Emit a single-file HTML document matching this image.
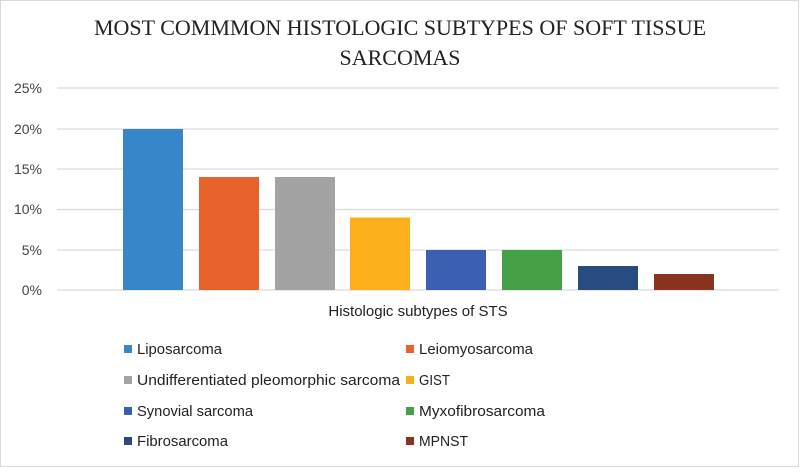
<!DOCTYPE html>
<html><head><style>
body{margin:0;background:#fff}
svg text{font-family:"Liberation Sans",sans-serif}
</style></head><body>
<svg width="800" height="467" xmlns="http://www.w3.org/2000/svg">
<rect x="0.5" y="0.5" width="798" height="466" fill="#fff" stroke="#d9d9d9"/>
<text x="400" y="35" text-anchor="middle" style="font-family:'Liberation Serif',serif" font-size="22" fill="#222">MOST COMMMON HISTOLOGIC SUBTYPES OF SOFT TISSUE</text>
<text x="400" y="65" text-anchor="middle" style="font-family:'Liberation Serif',serif" font-size="22" fill="#222">SARCOMAS</text>
<g stroke="#d9d9d9" stroke-width="1.3">
<line x1="57" x2="779" y1="88" y2="88"/><line x1="57" x2="779" y1="129" y2="129"/>
<line x1="57" x2="779" y1="169" y2="169"/><line x1="57" x2="779" y1="209.5" y2="209.5"/>
<line x1="57" x2="779" y1="250" y2="250"/><line x1="57" x2="779" y1="290" y2="290"/>
</g>
<g font-size="14" fill="#444" text-anchor="end">
<text x="42" y="93">25%</text><text x="42" y="134">20%</text><text x="42" y="174">15%</text>
<text x="42" y="214">10%</text><text x="42" y="255">5%</text><text x="42" y="295">0%</text>
</g>
<rect x="123" y="129" width="60" height="161" fill="#3786c8"/>
<rect x="199" y="177" width="60" height="113" fill="#e8622b"/>
<rect x="275" y="177" width="60" height="113" fill="#a3a3a3"/>
<rect x="350" y="217.5" width="60" height="72.5" fill="#fbaf1b"/>
<rect x="426" y="250" width="60" height="40" fill="#3a5fb3"/>
<rect x="502" y="250" width="60" height="40" fill="#46a146"/>
<rect x="578" y="266" width="60" height="24" fill="#284c80"/>
<rect x="654" y="274" width="60" height="16" fill="#8a3320"/>
<text x="418" y="316" text-anchor="middle" font-size="15" fill="#222">Histologic subtypes of STS</text>
<g font-size="15" fill="#222">
<rect x="124" y="345" width="8" height="8" fill="#3786c8"/><text x="137" y="354" textLength="85" lengthAdjust="spacingAndGlyphs">Liposarcoma</text>
<rect x="124" y="376" width="8" height="8" fill="#a3a3a3"/><text x="137" y="385" textLength="263" lengthAdjust="spacingAndGlyphs">Undifferentiated pleomorphic sarcoma</text>
<rect x="124" y="407" width="8" height="8" fill="#3a5fb3"/><text x="137" y="416" textLength="116" lengthAdjust="spacingAndGlyphs">Synovial sarcoma</text>
<rect x="124" y="437" width="8" height="8" fill="#284c80"/><text x="137" y="446" textLength="91" lengthAdjust="spacingAndGlyphs">Fibrosarcoma</text>
<rect x="406" y="345" width="8" height="8" fill="#e8622b"/><text x="419" y="354" textLength="114" lengthAdjust="spacingAndGlyphs">Leiomyosarcoma</text>
<rect x="406" y="376" width="8" height="8" fill="#fbaf1b"/><text x="419" y="385" textLength="31" lengthAdjust="spacingAndGlyphs">GIST</text>
<rect x="406" y="407" width="8" height="8" fill="#46a146"/><text x="419" y="416" textLength="126" lengthAdjust="spacingAndGlyphs">Myxofibrosarcoma</text>
<rect x="406" y="437" width="8" height="8" fill="#8a3320"/><text x="419" y="446" textLength="49" lengthAdjust="spacingAndGlyphs">MPNST</text>
</g>
</svg>
</body></html>
